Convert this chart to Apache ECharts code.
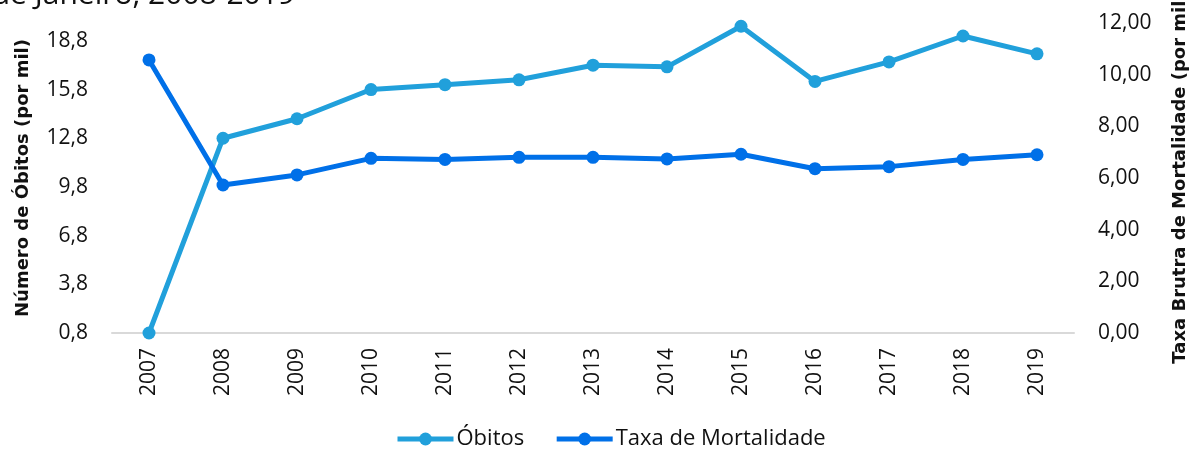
<!DOCTYPE html>
<html>
<head>
<meta charset="utf-8">
<script src="https://cdn.jsdelivr.net/npm/echarts@6/dist/echarts.min.js"></script>
<style>
  html, body { margin: 0; padding: 0; background: #fff; }
  #chart { width: 1192px; height: 452px; }
</style>
</head>
<body>
<div id="chart"></div>
<script>
// dados
const anos = ["2007", "2008", "2009", "2010", "2011", "2012", "2013", "2014", "2015", "2016", "2017", "2018", "2019"];
const obitos = [0.8, 12.8, 14.0, 15.8, 16.1, 16.4, 17.3, 17.2, 19.7, 16.3, 17.5, 19.1, 18.0];
const taxa = [10.57, 5.73, 6.12, 6.76, 6.72, 6.80, 6.80, 6.74, 6.92, 6.36, 6.44, 6.72, 6.90];

const fonte = "'Open Sans', 'Noto Sans', sans-serif";
const fonteNome = "'DejaVu Sans', sans-serif";
const corObitos = "#21a0db";
const corTaxa = "#0070e8";

const myChart = echarts.init(document.getElementById("chart"));

const option = {
  animation: false,
  textStyle: { fontFamily: fonte },
  title: {
    text: "Rio de Janeiro, 2008-2019",
    right: 897,
    top: -20,
    padding: 0,
    textStyle: { fontFamily: fonte, fontSize: 30, fontWeight: "normal", color: "#111" },
  },
  grid: { left: 112, right: 118, top: 23, bottom: 119, containLabel: false, outerBoundsMode: "none" },
  legend: {
    bottom: -3,
    left: 390,
    itemWidth: 56,
    itemHeight: 16,
    itemGap: 30,
    lineStyle: { width: 5 },
    textStyle: { fontFamily: fonte, fontSize: 22, color: "#111", padding: [0, 0, 0, -2] },
    data: ["Óbitos", "Taxa de Mortalidade"],
  },
  xAxis: {
    type: "category",
    data: anos,
    boundaryGap: true,
    axisLine: { lineStyle: { color: "#d9d9d9", width: 2 } },
    axisTick: { show: false },
    axisLabel: { rotate: 90, margin: 15, fontSize: 21, color: "#111", fontFamily: fonte },
  },
  yAxis: [
    {
      type: "value",
      min: 0.8,
      max: 19.9,
      interval: 3,
      splitLine: { show: false },
      axisLine: { show: false },
      axisTick: { show: false },
      axisLabel: {
        showMaxLabel: false,
        margin: 24,
        fontSize: 21,
        color: "#111",
        fontFamily: fonte,
        formatter: (v) => v.toFixed(1).replace(".", ","),
      },
      name: "Número de Óbitos (por mil)",
      nameLocation: "middle",
      nameGap: 80,
      nameRotate: 90,
      nameTextStyle: { fontSize: 18, fontWeight: "bold", color: "#111", fontFamily: fonteNome },
    },
    {
      type: "value",
      min: 0,
      max: 12,
      interval: 2,
      splitLine: { show: false },
      axisLine: { show: false },
      axisTick: { show: false },
      axisLabel: {
        margin: 24,
        fontSize: 21,
        color: "#111",
        fontFamily: fonte,
        formatter: (v) => v.toFixed(2).replace(".", ","),
      },
      name: "Taxa Brutra de Mortalidade (por mil)",
      nameLocation: "middle",
      nameGap: 97,
      nameRotate: 90,
      nameTextStyle: { fontSize: 18, fontWeight: "bold", color: "#111", fontFamily: fonteNome },
    },
  ],
  series: [
    {
      name: "Óbitos",
      type: "line",
      yAxisIndex: 0,
      data: obitos,
      symbol: "circle",
      symbolSize: 13,
      lineStyle: { width: 5, color: corObitos },
      itemStyle: { color: corObitos },
    },
    {
      name: "Taxa de Mortalidade",
      type: "line",
      yAxisIndex: 1,
      data: taxa,
      symbol: "circle",
      symbolSize: 13,
      lineStyle: { width: 5, color: corTaxa },
      itemStyle: { color: corTaxa },
    },
  ],
};

myChart.setOption(option);
</script>
</body>
</html>
